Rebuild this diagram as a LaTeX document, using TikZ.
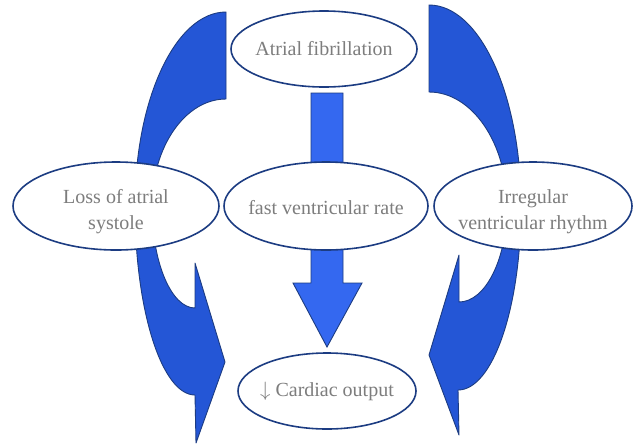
\documentclass[tikz,border=0pt]{standalone}
\usepackage{fontspec}
\setmainfont{Liberation Serif}
\definecolor{arrowblue}{RGB}{36,86,214}
\definecolor{centerblue}{RGB}{52,104,240}
\definecolor{edgenavy}{RGB}{28,60,130}
\definecolor{textgray}{RGB}{125,125,125}
\begin{document}
\begin{tikzpicture}[x=1pt,y=-1pt,
  bubbleline/.style={draw=edgenavy,line width=1.6pt,fill=white},
  label/.style={inner sep=0pt,text=textgray,font=\fontsize{20}{26}\selectfont,align=center},
  bigarrow/.style={fill=arrowblue,draw=edgenavy,line width=0.9pt,line join=round},
  midarrow/.style={fill=centerblue,draw=edgenavy,line width=0.9pt,line join=miter}]
\useasboundingbox (0,0) rectangle (634,445);
\fill[white] (0,0) rectangle (634,445);

% left curved arrow
\draw[bigarrow] (226,12) .. controls (175.8,12) and (135,98.9) .. (135,206)
  .. controls (135,310.3) and (161.9,395) .. (195,395)
  -- (196,443) -- (225,362) -- (195,263) -- (195,308)
  .. controls (171.3,308) and (152,262.3) .. (152,206)
  .. controls (152,146.9) and (185.2,99) .. (226,99) -- cycle;

% right curved arrow
\draw[bigarrow] (429,5) .. controls (479.8,5) and (521,95) .. (521,206)
  .. controls (521,307.6) and (492.8,390) .. (458,390)
  -- (459,435) -- (429,355) -- (459,255) -- (459,302)
  .. controls (485.5,302) and (507,259) .. (507,206)
  .. controls (507,143.1) and (472.1,92) .. (429,92) -- cycle;

% central straight arrow
\draw[midarrow] (311,93) -- (343,93) -- (343,283) -- (362,283) -- (327,347)
  -- (293,283) -- (311,283) -- cycle;

% ellipses
\draw[bubbleline] (324,49) ellipse [x radius=93, y radius=38];
\draw[bubbleline] (116,206) ellipse [x radius=103, y radius=44];
\draw[bubbleline] (326,206) ellipse [x radius=102, y radius=44];
\draw[bubbleline] (533,206) ellipse [x radius=99, y radius=44];
\draw[bubbleline] (327,391) ellipse [x radius=89, y radius=38];

\node[label] (af) at (324,49) {Atrial fibrillation};
\node[label] (loss) at (116,212) {Loss of atrial\\systole};
\node[label] (fast) at (326,208) {fast ventricular rate};
\node[label] (irr) at (533,212) {Irregular\\ventricular rhythm};
\node[label] (co) at (327,391) {$\downarrow$ Cardiac output};
\end{tikzpicture}
\end{document}
